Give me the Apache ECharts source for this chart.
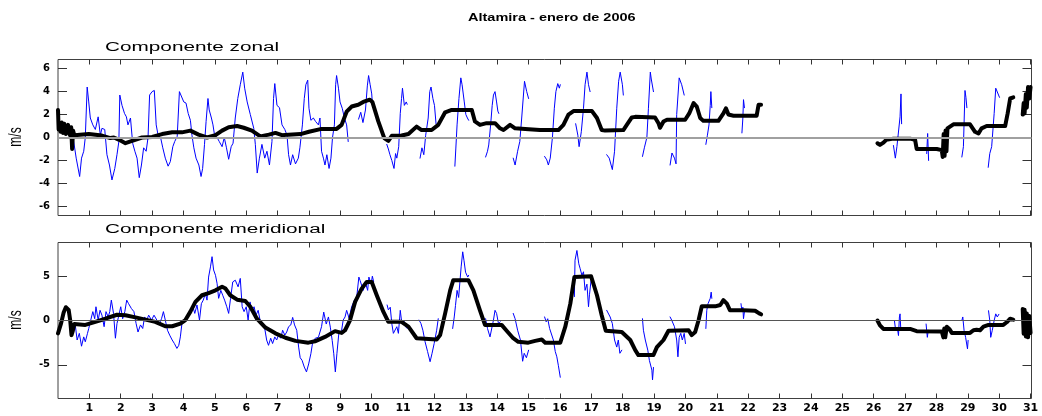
<html>
<head>
<meta charset="utf-8">
</head>
<body style="margin:0;background:#fff">
<div id="chart1" style="width:1042px;height:416px;"></div>
<script src="https://cdn.jsdelivr.net/npm/echarts@6/dist/echarts.min.js"></script>
<script>
  // dias del mes (etiquetas del eje x)
  let days = [];
  for (let i = 1; i <= 31; i++) days.push(i);
  let zonalTicks = [-6, -4, -2, 0, 2, 4, 6];
  let meridTicks = [-5, 0, 5];

  // componente zonal, serie observada (azul); null = hueco
  let zonalObs = [
    [0.50,-0.35],[0.58,-1.8],[0.69,-3.4],[0.75,-1.8],[0.82,-1.2],[0.87,0],[0.93,4.4],[0.98,3.1],[1.03,1.7],[1.11,1.1],[1.19,0.7],[1.28,1.8],[1.35,0.2],[1.40,0.8],[1.49,0.7],[1.56,-1.5],[1.64,-2.4],[1.72,-3.7],[1.81,-2.7],[1.88,-1.5],[1.94,-0.35],[1.97,3.7],[2.04,2.8],[2.12,2.1],[2.18,1.8],[2.23,1.1],[2.31,1.7],[2.38,-0.5],[2.45,-1.2],[2.52,-1.8],[2.59,-3.5],[2.66,-2.4],[2.73,-0.9],[2.81,-1.2],[2.87,0],[2.92,3.7],[3.00,4.0],[3.07,4.1],[3.13,1.1],[3.19,0.2],[3.27,0],[3.34,-0.9],[3.42,-1.8],[3.51,-2.5],[3.58,-2.1],[3.66,-0.8],[3.72,-0.35],[3.80,0.1],[3.87,4.0],[3.93,3.85],[4.01,3.1],[4.08,3.0],[4.15,2.1],[4.22,1.5],[4.27,0.2],[4.33,-0.9],[4.40,-1.8],[4.49,-2.4],[4.56,-3.4],[4.61,-2.7],[4.67,-0.6],[4.72,1.4],[4.78,3.4],[4.82,2.4],[4.89,1.7],[4.94,1.1],[4.99,0.2],[5.07,0],[5.14,-0.35],[5.23,-0.8],[5.30,0],[5.37,-0.9],[5.44,-1.9],[5.52,-0.8],[5.58,-0.5],[5.65,1.7],[5.73,3.4],[5.81,4.6],[5.89,5.7],[5.95,4.3],[6.03,3.1],[6.13,2.0],[6.24,0.8],[6.29,-0.6],[6.35,-3.1],[6.42,-1.8],[6.50,-0.6],[6.59,-1.8],[6.66,-1.2],[6.74,-2.4],[6.82,-0.35],[6.87,3.4],[6.91,4.7],[6.98,2.8],[7.06,2.6],[7.14,1.1],[7.23,0.7],[7.30,0.2],[7.35,-1.5],[7.41,-2.4],[7.48,-1.5],[7.57,-2.3],[7.61,-2.2],[7.66,-1.8],[7.71,-0.9],[7.79,1.1],[7.85,3.4],[7.90,4.6],[7.96,5.0],[8.00,2.55],[8.06,1.5],[8.14,1.7],[8.21,1.4],[8.30,1.1],[8.35,1.7],[8.40,-1.2],[8.46,-1.8],[8.51,-2.4],[8.57,-1.5],[8.64,-2.7],[8.70,-1.8],[8.75,0],[8.81,1.1],[8.85,4.6],[8.88,5.4],[8.94,4.3],[8.99,3.1],[9.06,2.55],[9.13,1.7],[9.20,1.1],[9.25,-0.35],null,
    [9.58,1.6],[9.65,2.2],[9.72,1.3],[9.80,2.4],[9.86,4.5],[9.90,5.4],[9.95,4.6],[10.0,3.8],[10.02,3.0],null,
    [10.48,-0.6],[10.53,-1.0],[10.58,-1.5],[10.64,-2.0],[10.71,-2.7],[10.76,-1.4],[10.80,-1.8],[10.86,-0.8],[10.91,2.1],[10.95,3.4],[10.98,4.3],[11.04,2.8],[11.10,3.1],[11.13,2.9],null,
    [11.54,-1.8],[11.60,-0.9],[11.66,-1.5],[11.72,0.2],[11.80,1.7],[11.85,4.0],[11.89,4.4],[11.95,3.4],[12.0,2.8],[12.05,1.2],null,
    [12.65,-2.5],[12.68,-1.0],[12.72,1.1],[12.78,3.4],[12.84,5.2],[12.88,4.6],[12.95,3.1],[13.0,2.0],[13.05,1.7],[13.09,1.5],null,
    [13.63,-1.7],[13.69,-1.2],[13.73,-0.65],[13.79,1.1],[13.84,2.8],[13.88,3.7],[13.93,4.0],[13.98,3.1],[14.02,2.3],[14.05,2.1],null,
    [14.51,-1.8],[14.57,-2.4],[14.65,-1.2],[14.72,-0.35],[14.78,1.7],[14.87,4.9],[14.94,4.0],[15.0,3.4],null,
    [15.51,-1.65],[15.58,-1.95],[15.63,-2.4],[15.69,-1.8],[15.76,0],[15.82,2.55],[15.87,4.0],[15.93,4.7],[15.98,4.3],[16.01,4.6],null,
    [16.50,1.2],[16.57,0.2],[16.61,-0.8],[16.68,0.5],[16.75,2.55],[16.80,4.6],[16.86,5.7],[16.91,4.6],[16.96,4.0],null,
    [17.49,-1.5],[17.57,-1.8],[17.67,-2.8],[17.74,-1.2],[17.81,2.55],[17.87,4.9],[17.92,5.7],[17.99,4.6],[18.02,3.7],null,
    [18.63,-1.65],[18.69,-0.9],[18.77,0],[18.82,2.55],[18.88,5.7],[18.91,5.1],[18.98,4.0],null,
    [19.51,-2.4],[19.57,-1.35],[19.65,-1.8],[19.70,-2.3],[19.72,2.0],[19.80,5.2],[19.88,4.6],[19.96,3.7],null,
    [20.65,-0.6],[20.70,0.2],[20.75,1.1],[20.79,2.8],[20.81,4.0],[20.84,2.6],null,
    [21.80,0.4],[21.83,1.7],[21.85,3.3],[21.88,2.6],null,
    [26.63,-0.7],[26.69,-1.8],[26.74,-0.8],[26.84,1.8],[26.87,3.8],[26.89,1.2],null,
    [27.69,-1.4],[27.72,0.35],[27.75,-2.0],null,
    [28.81,-1.7],[28.86,-0.8],[28.91,4.1],[28.94,3.5],[28.97,2.6],null,
    [29.65,-2.6],[29.70,-1.4],[29.76,-0.8],[29.84,2.1],[29.89,4.3],[29.94,4.4],[30.01,3.5]
  ];

  // componente zonal, serie filtrada (negra)
  let zonalFilt = [
    [0.0,2.4],[0.02,0.7],[0.05,1.0],[0.08,0.5],[0.12,1.3],[0.16,0.4],[0.20,1.2],[0.25,0.3],[0.32,1.1],[0.38,0.2],[0.42,0.9],[0.45,-1.0],[0.48,0.6],[0.52,0.2],[0.98,0.3],[1.4,0.17],[1.67,-0.05],[1.78,0],[1.95,-0.2],[2.15,-0.5],[2.36,-0.3],[2.68,0],[3.0,0.05],[3.32,0.3],[3.64,0.45],[3.95,0.45],[4.22,0.6],[4.48,0.25],[4.75,0],[5.02,0.2],[5.23,0.6],[5.44,0.9],[5.71,1.0],[5.92,0.85],[6.18,0.6],[6.45,0.1],[6.72,0.25],[6.93,0.4],[7.14,0.2],[7.35,0.25],[7.73,0.3],[8.0,0.5],[8.4,0.75],[8.88,0.75],[9.04,1.1],[9.2,2.25],[9.36,2.7],[9.57,2.85],[9.73,3.1],[9.94,3.3],[10.02,3.1],[10.21,1.4],[10.4,-0.05],[10.53,-0.3],[10.64,0.15],[10.95,0.17],[11.17,0.3],[11.43,0.95],[11.59,0.65],[11.91,0.65],[12.12,1.1],[12.34,2.2],[12.55,2.4],[13.19,2.4],[13.29,1.4],[13.45,1.1],[13.66,1.25],[13.93,1.25],[14.09,0.8],[14.2,0.65],[14.41,1.1],[14.57,0.8],[14.89,0.75],[15.36,0.65],[15.95,0.65],[16.11,1.1],[16.27,2.0],[16.43,2.3],[17.02,2.3],[17.18,1.7],[17.33,0.65],[17.44,0.6],[18.02,0.65],[18.13,1.1],[18.29,1.75],[18.4,1.8],[19.03,1.75],[19.14,1.25],[19.19,0.85],[19.3,1.4],[19.41,1.55],[19.99,1.55],[20.12,2.1],[20.26,3.0],[20.36,2.7],[20.47,1.7],[20.57,1.45],[21.05,1.45],[21.21,2.1],[21.29,2.55],[21.37,2.0],[21.53,1.9],[22.27,1.9],[22.33,2.85],[22.41,2.85],null,
    [26.12,-0.5],[26.2,-0.65],[26.31,-0.45],[26.4,-0.2],[26.63,-0.1],[27.16,-0.1],[27.32,-0.2],[27.37,-1.0],[28.01,-1.0],[28.17,-1.1],[28.2,-1.7],[28.23,0.3],[28.26,-1.6],[28.29,0.6],[28.32,-1.2],[28.35,0.8],[28.38,0.9],[28.54,1.15],[29.07,1.15],[29.23,0.5],[29.34,0.35],[29.44,0.8],[29.6,1.0],[30.19,1.0],[30.27,2.1],[30.35,3.4],[30.45,3.5],null,
    [30.75,2.0],[30.78,3.0],[30.81,2.1],[30.85,3.8],[30.88,2.6],[30.92,4.4],[30.96,3.4],[31.0,4.4]
  ];

  // componente meridional, serie observada (azul)
  let meridObs = [
    [0.55,-0.5],[0.61,-2.2],[0.68,-1.45],[0.75,-2.9],[0.82,-1.85],[0.87,-2.4],[0.94,-1.45],[0.98,-0.9],[1.03,-0.15],[1.11,1.0],[1.17,0.2],[1.21,1.55],[1.28,0.05],[1.34,1.15],[1.40,0.6],[1.47,-0.7],[1.53,1.0],[1.60,0.4],[1.65,1.0],[1.70,2.3],[1.77,0.8],[1.83,-2.0],[1.88,-0.35],[1.94,0.6],[2.00,1.55],[2.06,0.2],[2.13,1.0],[2.19,2.3],[2.25,1.9],[2.34,1.35],[2.42,1.0],[2.49,-0.35],[2.55,-1.3],[2.63,-0.5],[2.70,-0.9],[2.76,0.4],[2.83,0.05],[2.89,0.6],[2.98,0.05],[3.06,0.6],[3.15,0.05],[3.23,-0.35],[3.30,0.2],[3.36,1.0],[3.42,0.05],[3.49,-1.1],[3.56,-1.65],[3.64,-2.2],[3.71,-2.6],[3.79,-3.15],[3.85,-2.8],[3.90,-1.85],[3.95,-0.35],[4.02,0.05],[4.08,-0.15],[4.15,0.4],[4.22,1.0],[4.30,1.55],[4.36,0.8],[4.43,1.75],[4.51,0.05],[4.57,1.9],[4.63,2.3],[4.70,3.05],[4.75,2.3],[4.80,4.9],[4.86,6.05],[4.91,7.2],[4.96,5.7],[5.02,5.1],[5.07,4.2],[5.12,2.5],[5.19,3.4],[5.25,2.85],[5.31,2.3],[5.38,1.55],[5.44,0.8],[5.50,2.5],[5.57,4.35],[5.65,4.55],[5.74,3.8],[5.81,4.75],[5.87,1.55],[5.93,1.0],[6.00,1.55],[6.06,0.05],[6.12,2.1],[6.18,1.15],[6.25,1.55],[6.31,0.6],[6.38,1.15],[6.44,0.05],[6.50,-0.5],[6.59,-0.9],[6.65,-2.2],[6.71,-2.8],[6.78,-2.0],[6.84,-2.6],[6.91,-1.85],[6.97,-2.2],[7.03,-1.65],[7.10,-2.0],[7.16,-1.1],[7.23,-1.65],[7.29,-1.3],[7.35,-0.7],[7.42,-0.5],[7.48,0.35],[7.54,-0.5],[7.61,-1.1],[7.67,-3.0],[7.72,-4.2],[7.78,-4.5],[7.85,-5.25],[7.92,-5.8],[7.99,-4.9],[8.06,-3.75],[8.12,-2.4],[8.20,-2.0],[8.30,-1.9],[8.36,-2.1],[8.40,-0.7],[8.47,0.95],[8.55,-0.4],[8.62,0.4],[8.68,-0.75],[8.74,-2.25],[8.79,-3.75],[8.84,-5.8],[8.89,-3.75],[8.95,-1.5],[9.04,-1.1],[9.09,0.05],[9.15,0.4],[9.20,1.15],[9.28,0.25],[9.36,1.55],[9.45,2.3],[9.52,2.6],[9.59,4.9],[9.63,4.5],[9.68,4.5],[9.73,3.4],[9.79,4.35],[9.87,3.4],[9.91,4.9],[9.98,4.1],[10.02,5.0],[10.06,4.4],null,
    [10.49,1.75],[10.53,1.2],[10.59,1.5],[10.64,-0.35],[10.69,-1.45],[10.75,-1.65],[10.80,-0.7],[10.85,-1.45],[10.91,1.15],[10.96,-0.35],[11.02,0.05],[11.08,-0.7],[11.13,-0.9],null,
    [11.51,0.05],[11.57,-0.35],[11.63,-1.1],[11.70,-2.4],[11.78,-3.5],[11.86,-4.65],[11.92,-3.75],[11.99,-2.6],[12.07,-1.1],[12.12,0.2],null,
    [12.58,-0.9],[12.63,0.4],[12.67,1.7],[12.72,3.4],[12.77,2.6],[12.85,6.05],[12.90,7.75],[12.94,6.8],[12.99,5.45],[13.06,4.9],[13.09,5.1],null,
    [13.63,0.2],[13.69,-0.9],[13.77,-1.85],[13.82,-1.65],[13.88,0.05],[13.93,1.15],[13.98,0.8],[14.04,-0.35],[14.10,-0.15],null,
    [14.51,0.8],[14.57,0.2],[14.65,-1.1],[14.74,-2.2],[14.81,-4.6],[14.86,-3.7],[14.93,-4.2],[15.0,-3.35],null,
    [15.51,0.4],[15.56,-0.15],[15.61,0.2],[15.67,-0.9],[15.72,-0.7],[15.79,-2.2],[15.85,-3.5],[15.90,-4.1],[15.95,-5.1],[16.01,-6.4],null,
    [16.46,2.7],[16.48,6.8],[16.54,7.9],[16.60,6.4],[16.64,5.9],[16.70,5.1],[16.75,5.5],[16.80,3.4],[16.86,4.1],[16.91,1.55],[16.94,2.9],[16.99,4.5],null,
    [17.49,1.15],[17.54,0.95],[17.60,0.4],[17.67,-0.35],[17.74,-2.2],[17.81,-3.0],[17.86,-2.2],[17.91,-3.7],[17.97,-3.35],null,
    [18.63,0.2],[18.66,-1.1],[18.72,-2.2],[18.80,-3.35],[18.85,-4.5],[18.93,-5.6],[18.95,-6.7],[18.98,-5.3],null,
    [19.51,0.4],[19.56,0.05],[19.65,-0.7],[19.72,-2.2],[19.76,-4.1],[19.80,-1.9],[19.85,-1.45],[19.90,-2.2],[19.96,-1.45],[20.0,-2.6],null,
    [20.65,-0.9],[20.68,1.15],[20.72,1.9],[20.79,2.5],[20.82,3.2],[20.84,2.5],null,
    [21.77,1.9],[21.80,1.0],[21.83,1.5],[21.85,0.2],[21.88,1.0],null,
    [26.66,0],[26.70,-1.1],[26.75,-0.75],[26.79,-1.7],[26.82,0.4],[26.84,0.75],[26.86,-0.75],null,
    [27.67,-0.4],[27.71,-1.9],[27.74,-1.1],null,
    [28.81,0],[28.84,0.4],[28.88,-1.1],[28.93,-1.9],[28.99,-3.2],[29.01,-2.25],null,
    [29.66,1.1],[29.70,0],[29.73,-1.9],[29.78,-1.1],[29.84,0],[29.89,0.75],[29.94,0.4],[29.99,0.7]
  ];

  // componente meridional, serie filtrada (negra)
  let meridFilt = [
    [0.0,-1.45],[0.04,-1.5],[0.10,-0.3],[0.18,0.9],[0.25,1.5],[0.29,1.6],[0.34,1.2],[0.39,0],[0.43,-1.65],[0.47,-1.2],[0.52,-0.4],[0.55,-0.35],[0.87,-0.5],[1.19,-0.15],[1.51,0.2],[1.88,0.65],[2.15,0.6],[2.47,0.35],[2.79,0.1],[3.1,-0.15],[3.42,-0.65],[3.64,-0.65],[3.9,-0.35],[4.06,0.05],[4.22,1.0],[4.38,2.1],[4.59,2.85],[4.8,3.1],[5.02,3.4],[5.23,3.8],[5.34,3.6],[5.49,2.85],[5.71,2.35],[5.97,2.2],[6.13,1.55],[6.34,0.2],[6.61,-0.8],[6.93,-1.45],[7.25,-1.95],[7.57,-2.3],[7.98,-2.5],[8.19,-2.35],[8.51,-1.85],[8.83,-1.2],[9.04,-1.4],[9.15,-1.1],[9.31,0.05],[9.47,2.1],[9.68,3.6],[9.84,4.35],[10.0,4.35],[10.16,2.85],[10.37,1.0],[10.53,-0.15],[10.95,-0.15],[11.17,-0.7],[11.43,-2.0],[12.07,-2.15],[12.18,-1.65],[12.34,0.8],[12.5,3.4],[12.6,4.55],[13.08,4.55],[13.24,3.4],[13.45,1.15],[13.61,-0.5],[14.14,-0.5],[14.3,-1.15],[14.51,-2.0],[14.67,-2.4],[14.99,-2.5],[15.21,-2.3],[15.42,-2.15],[15.53,-2.5],[16.01,-2.5],[16.17,-0.7],[16.33,1.9],[16.46,4.9],[16.99,5.0],[17.18,2.85],[17.33,0.6],[17.46,-1.15],[17.97,-1.3],[18.24,-2.2],[18.4,-3.35],[18.5,-3.9],[18.98,-3.9],[19.09,-3.0],[19.3,-2.2],[19.46,-1.15],[20.1,-1.1],[20.2,-1.65],[20.31,-1.3],[20.42,0.05],[20.52,1.6],[20.95,1.6],[21.11,1.75],[21.21,2.3],[21.32,1.9],[21.42,1.15],[21.85,1.15],[22.22,1.1],[22.35,0.8],[22.41,0.7],null,
    [26.12,0],[26.2,-0.55],[26.31,-0.95],[27.16,-0.95],[27.37,-1.2],[28.17,-1.25],[28.22,-1.9],[28.25,-0.9],[28.28,-1.9],[28.33,-0.7],[28.41,-0.95],[28.49,-1.4],[29.07,-1.4],[29.18,-1.1],[29.28,-1.05],[29.39,-1.1],[29.5,-0.7],[29.66,-0.5],[30.13,-0.5],[30.24,-0.2],[30.35,0.2],[30.45,0.1],null,
    [30.75,1.3],[30.78,-1.5],[30.81,1.2],[30.85,-1.8],[30.88,0.8],[30.92,-1.9],[30.96,0.5],[31.0,-1.4]
  ];

  let xMax = 31.03;

  // parte una serie en tramos separados por null
  function splitRuns(pts) {
    let runs = [[]];
    for (let i = 0; i < pts.length; i++) {
      if (pts[i] === null) runs.push([]);
      else runs[runs.length - 1].push(pts[i]);
    }
    return runs.filter(r => r.length > 0);
  }

  function lineSeries(pts, axisIdx, color, width, z, zeroColor, zeroWidth) {
    let out = [];
    splitRuns(pts).forEach(function (run, k) {
      let s = {
        type: 'line', xAxisIndex: axisIdx, yAxisIndex: axisIdx,
        data: run, showSymbol: false, symbol: 'none', z: z,
        lineStyle: { color: color, width: width, cap: 'round', join: 'round' },
        emphasis: { disabled: true }, silent: true
      };
      if (k === 0 && zeroColor) {
        s.markLine = {
          silent: true, symbol: ['none', 'none'], label: { show: false },
          lineStyle: { color: zeroColor, width: zeroWidth, type: 'solid' },
          data: [{ yAxis: 0 }]
        };
      }
      out.push(s);
    });
    return out;
  }

  function xAxisOf(grid, pos, showLabel) {
    return {
      type: 'value', gridIndex: grid, position: pos, min: 0, max: xMax,
      axisLine: { show: false, onZero: false },
      axisTick: { show: true, inside: true, length: 5, customValues: days, lineStyle: { color: '#333' } },
      axisLabel: { show: showLabel, customValues: days, margin: 4, color: '#000',
        fontFamily: 'DejaVu Sans', fontWeight: 'bold', fontSize: 11 },
      splitLine: { show: false }
    };
  }

  function yAxisOf(grid, pos, lim, ticks, showLabel) {
    return {
      type: 'value', gridIndex: grid, position: pos, min: -lim, max: lim,
      axisLine: { show: false, onZero: false },
      axisTick: { show: true, inside: true, length: 9, customValues: ticks, lineStyle: { color: '#333' } },
      axisLabel: { show: showLabel, customValues: ticks, margin: 8, color: '#000',
        fontFamily: 'DejaVu Sans', fontWeight: 'bold', fontSize: 10 },
      splitLine: { show: false }
    };
  }

  function label(text, x, y, font, sx) {
    return { type: 'text', x: x, y: y, scaleX: sx, silent: true,
      style: { text: text, font: font, fill: '#000', textAlign: 'left', textVerticalAlign: 'middle',
        align: 'left', verticalAlign: 'middle' } };
  }

  function yName(y) {
    return { type: 'text', x: 16.5, y: y, rotation: Math.PI / 2, scaleY: 1.5, silent: true,
      style: { text: 'm/s', font: '12px "Liberation Sans"', fill: '#000', textAlign: 'center',
        textVerticalAlign: 'middle', align: 'center', verticalAlign: 'middle' } };
  }

  let myChart = echarts.init(document.getElementById('chart1'));
  let series = []
    .concat(lineSeries(zonalObs, 0, '#0000ff', 1, 2, '#a0a0a0', 2))
    .concat(lineSeries(zonalFilt, 0, '#000', 4, 3))
    .concat(lineSeries(meridObs, 2, '#0000ff', 1, 2, '#555', 1))
    .concat(lineSeries(meridFilt, 2, '#000', 4, 3));

  let option = {
    animation: false,
    backgroundColor: '#fff',
    grid: [
      { left: 58, top: 59.5, width: 973.5, height: 156, show: true, borderColor: '#404040', borderWidth: 1 },
      { left: 58, top: 242.5, width: 973.5, height: 156, show: true, borderColor: '#404040', borderWidth: 1 }
    ],
    xAxis: [xAxisOf(0, 'bottom', false), xAxisOf(0, 'top', false), xAxisOf(1, 'bottom', true), xAxisOf(1, 'top', false)],
    yAxis: [yAxisOf(0, 'left', 6.8, zonalTicks, true), yAxisOf(0, 'right', 6.8, zonalTicks, false),
            yAxisOf(1, 'left', 8.8, meridTicks, true), yAxisOf(1, 'right', 8.8, meridTicks, false)],
    graphic: [
      label('Altamira - enero de 2006', 468, 18, 'bold 10px "Liberation Sans"', 1.45),
      label('Componente zonal', 105, 47.5, '12.5px "Liberation Sans"', 1.66),
      label('Componente meridional', 105, 229.5, '12.5px "Liberation Sans"', 1.66),
      yName(137),
      yName(320)
    ],
    series: series
  };
  myChart.setOption(option);
</script>
</body>
</html>
